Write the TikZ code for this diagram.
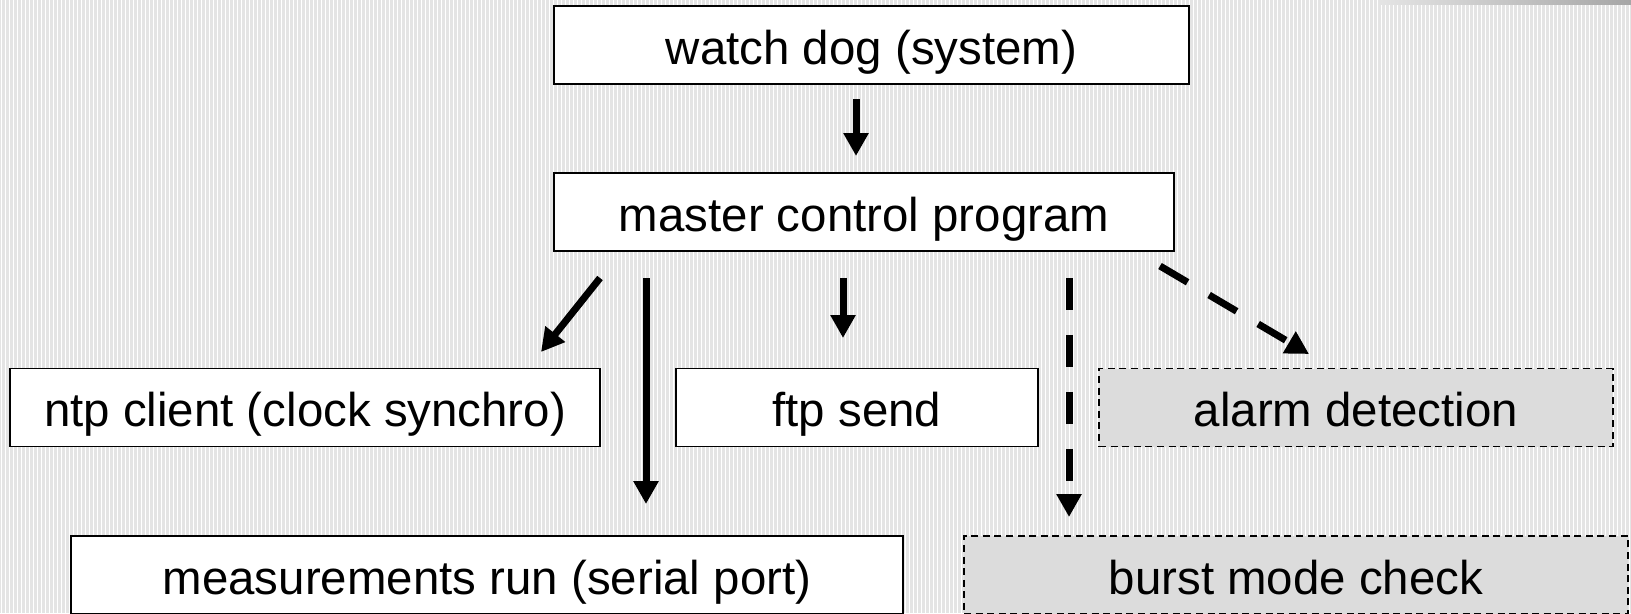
\documentclass[tikz,border=0pt]{standalone}
\usepackage{fontspec}
\setmainfont{Liberation Sans}
\usetikzlibrary{arrows.meta}
\definecolor{slidebg}{RGB}{228,228,228}
\definecolor{optgray}{RGB}{220,220,220}
\begin{document}
\begin{tikzpicture}[x=0.02cm,y=-0.02cm,
		task/.style={draw,fill=white,line width=1.1pt,inner sep=0pt,minimum height=1.56cm,text height=0.87cm,text depth=0.1cm,font=\fontsize{27}{32}\selectfont},
		option/.style={task,fill=optgray,line width=0.7pt,dash pattern=on 4pt off 2.6pt},
		arr/.style={line width=0.14cm,-{Triangle[width=0.48cm,length=0.46cm]}},
		darr/.style={arr,dash pattern=on 0.64cm off 0.5cm}]
		
		\useasboundingbox (0,0) rectangle (1631,613);
		\fill[slidebg] (0,0) rectangle (1631,613);
		\foreach \x in {1,5,...,1629}
		\draw[white,line width=0.02cm] (\x,0) -- (\x,613);
		\shade[left color=slidebg,right color=gray!70] (1380,0) rectangle (1631,4);
		
		% boxes
		\node[task,minimum width=12.7cm] (wdog) at (871.5,45) {watch dog (system)};
		\node[task,minimum width=12.4cm] (mcp) at (864,212) {master control program};
		\node[task,minimum width=11.8cm] (ntp) at (305,407.5) {ntp client (clock synchro)};
		\node[task,minimum width=7.24cm] (ftp) at (857,407.5) {ftp send};
		\node[option,minimum width=10.28cm] (alarm) at (1356,407.5) {alarm detection};
		\node[task,minimum width=16.64cm] (meas) at (487,575) {measurements run (serial port)};
		\node[option,minimum width=13.28cm] (burst) at (1296,575) {burst mode check};
		
		% arrow ends
		\coordinate (wdogout) at (856,99);
		\coordinate (mcpin) at (856,156);
		\coordinate (ntpfrom) at (600,278);
		\coordinate (ntpin) at (541,352);
		\coordinate (measfrom) at (646,278);
		\coordinate (measin) at (646,504);
		\coordinate (ftpfrom) at (843,278);
		\coordinate (ftpin) at (843,338);
		\coordinate (burstfrom) at (1069,278);
		\coordinate (burstin) at (1069,517);
		\coordinate (alarmfrom) at (1160,266);
		\coordinate (alarmin) at (1309,354);
		
		\draw[arr] (wdogout) -- (mcpin);
		\draw[arr] (ntpfrom) -- (ntpin);
		\draw[arr] (measfrom) -- (measin);
		\draw[arr] (ftpfrom) -- (ftpin);
		
		% optional tasks
		\draw[darr] (burstfrom) -- (burstin);
		\draw[darr] (alarmfrom) -- (alarmin);
		
	\end{tikzpicture}
\end{document}
